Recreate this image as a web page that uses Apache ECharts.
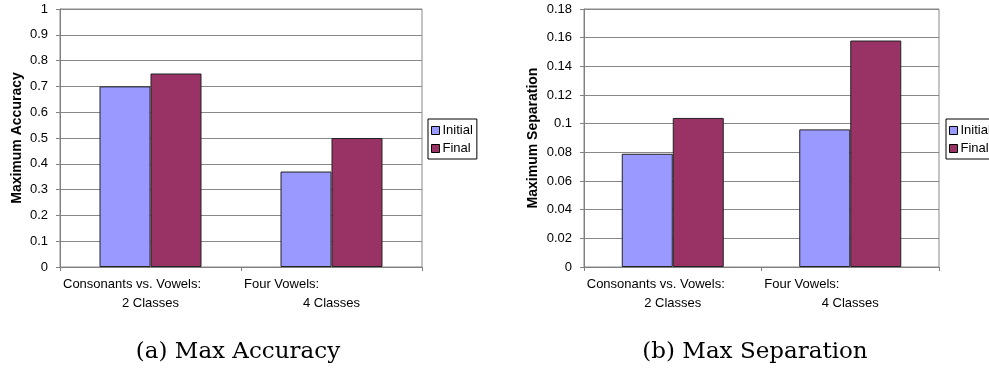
<!DOCTYPE html>
<html><head><meta charset="utf-8">
<script src="https://cdn.jsdelivr.net/npm/echarts@6/dist/echarts.min.js"></script>
<style>html,body{margin:0;padding:0;background:#fff}#c{width:989px;height:369px}</style>
</head><body><div id="c"></div>
<script>
// ---- data ----
const categories = ['Consonants vs. Vowels: 2 Classes', 'Four Vowels: 4 Classes'];
const categoryLine1 = ['Consonants vs. Vowels:', 'Four Vowels:'];
const categoryLine2 = ['2 Classes', '4 Classes'];
const seriesNames = ['Initial', 'Final'];
const accuracyInitial = [0.70, 0.37];
const accuracyFinal = [0.75, 0.50];
const separationInitial = [0.079, 0.096];
const separationFinal = [0.104, 0.158];
const accuracyAxisName = 'Maximum Accuracy';
const separationAxisName = 'Maximum Separation';
const captions = ['(a) Max Accuracy', '(b) Max Separation'];

const FONT = '"Liberation Sans", Arial, sans-serif';
const FS = 13;
const colors = ['#9999FF', '#993366'];

function xAxisFor(gridIndex, w) {
  return {
    type: 'category', gridIndex, data: categories,
    axisLine: { lineStyle: { color: '#808080', width: 1 } },
    axisTick: { show: true, length: 4, lineStyle: { color: '#808080' } },
    axisLabel: {
      interval: 0, margin: 8, color: '#000', fontFamily: FONT, fontSize: FS,
      formatter: (v, i) => '{a|' + categoryLine1[i] + '}\n{b|' + categoryLine2[i] + '}',
      rich: {
        a: { width: w, align: 'left', lineHeight: 19, fontFamily: FONT, fontSize: FS, color: '#000' },
        b: { width: w, align: 'center', lineHeight: 19, fontFamily: FONT, fontSize: FS, color: '#000' }
      }
    },
    splitLine: { show: false }
  };
}
function yAxisFor(gridIndex, max, interval, name, gap) {
  return {
    type: 'value', gridIndex, min: 0, max, interval,
    name, nameLocation: 'middle', nameGap: gap,
    nameTextStyle: { fontFamily: FONT, fontSize: 14, fontWeight: 'bold', color: '#000' },
    axisLine: { show: true, lineStyle: { color: '#808080', width: 1 } },
    axisTick: { show: true, length: 4, lineStyle: { color: '#808080' } },
    axisLabel: { margin: 12, color: '#000', fontFamily: FONT, fontSize: FS },
    splitLine: { show: true, lineStyle: { color: '#888888', width: 1 } }
  };
}
function barSeries(name, data, idx, color) {
  return {
    type: 'bar', name, data, xAxisIndex: idx, yAxisIndex: idx,
    barWidth: 51, barGap: '0%',
    itemStyle: { color, borderColor: '#222', borderWidth: 1 },
    emphasis: { disabled: true }
  };
}
function legendAt(left) {
  return {
    data: seriesNames, orient: 'vertical', left, top: 119,
    itemWidth: 8, itemHeight: 8, itemGap: 5,
    padding: [5, 4, 4, 3],
    borderColor: '#000', borderWidth: 1,
    icon: 'rect',
    itemStyle: { borderColor: '#000', borderWidth: 1 },
    textStyle: { fontFamily: FONT, fontSize: FS, color: '#000', padding: [0, 0, 0, -2] },
    selectedMode: false
  };
}

const chart = echarts.init(document.getElementById('c'), null, { renderer: 'canvas' });
chart.setOption({
  animation: false,
  backgroundColor: '#fff',
  color: colors,
  title: [
    { text: captions[0], left: 238, top: 341, textAlign: 'center', padding: 0,
      textStyle: { fontFamily: '"DejaVu Serif", serif', fontSize: 23, fontWeight: 'normal', color: '#000' } },
    { text: captions[1], left: 755, top: 341, textAlign: 'center', padding: 0,
      textStyle: { fontFamily: '"DejaVu Serif", serif', fontSize: 23, fontWeight: 'normal', color: '#000' } }
  ],
  legend: [legendAt(428), legendAt(946)],
  grid: [
    { left: 60, top: 9, width: 362, height: 258, show: true, borderColor: '#888888', borderWidth: 1, containLabel: false },
    { left: 584, top: 9, width: 355, height: 258, show: true, borderColor: '#888888', borderWidth: 1, containLabel: false }
  ],
  xAxis: [xAxisFor(0, 175), xAxisFor(1, 172)],
  yAxis: [
    yAxisFor(0, 1, 0.1, accuracyAxisName, 36),
    yAxisFor(1, 0.18, 0.02, separationAxisName, 44)
  ],
  series: [
    barSeries(seriesNames[0], accuracyInitial, 0, colors[0]),
    barSeries(seriesNames[1], accuracyFinal, 0, colors[1]),
    barSeries(seriesNames[0], separationInitial, 1, colors[0]),
    barSeries(seriesNames[1], separationFinal, 1, colors[1])
  ]
});
</script>
</body></html>
